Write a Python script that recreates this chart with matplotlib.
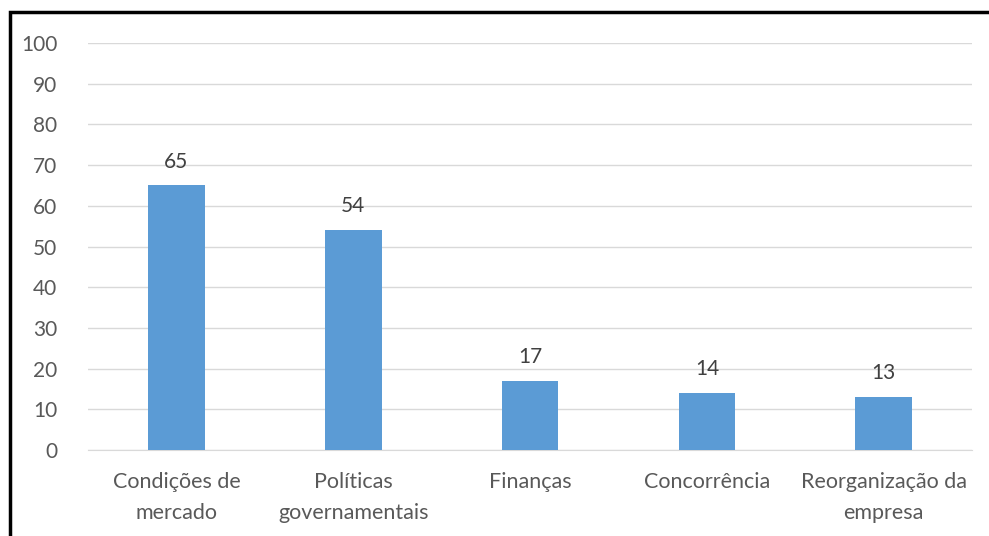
import matplotlib
matplotlib.use('Agg')
import matplotlib.pyplot as plt
from matplotlib.patches import Rectangle

categorias = ['Condições de\nmercado', 'Políticas\ngovernamentais', 'Finanças',
              'Concorrência', 'Reorganização da\nempresa']
valores = [65, 54, 17, 14, 13]

plt.rcParams['font.family'] = ['Lato', 'DejaVu Sans']

fig = plt.figure(figsize=(9.89, 5.36), dpi=100)
ax = fig.add_axes([0.089, 0.1604, 0.894, 0.7594])

x = range(len(categorias))
ax.bar(x, valores, width=0.32, color='#5B9BD5', zorder=3)
for i, v in zip(x, valores):
    ax.annotate(str(v), (i, v), xytext=(0, 10), textcoords='offset points',
                ha='center', va='bottom', fontsize=15, color='#404040')

ax.set_xlim(-0.5, len(categorias) - 0.5)
ax.set_ylim(0, 100)
ax.set_yticks(range(0, 101, 10))
ax.set_xticks(list(x))
ax.set_xticklabels(categorias, fontsize=15.5, color='#595959', linespacing=1.65)
ax.tick_params(axis='y', labelsize=15, labelcolor='#595959', length=0, pad=22)
ax.tick_params(axis='x', length=0, pad=16)
ax.grid(axis='y', color='#D9D9D9', linewidth=1, zorder=0)
for s in ['top', 'right', 'left']:
    ax.spines[s].set_visible(False)
ax.spines['bottom'].set_color('#D9D9D9')

# moldura preta (cortada na imagem original)
fig.patches.append(Rectangle((10 / 989, -0.2), 1.2, 1.2 - 12 / 536,
                             transform=fig.transFigure, fill=False,
                             edgecolor='black', linewidth=2.5, clip_on=False))

fig.savefig('out.png', dpi=100)
